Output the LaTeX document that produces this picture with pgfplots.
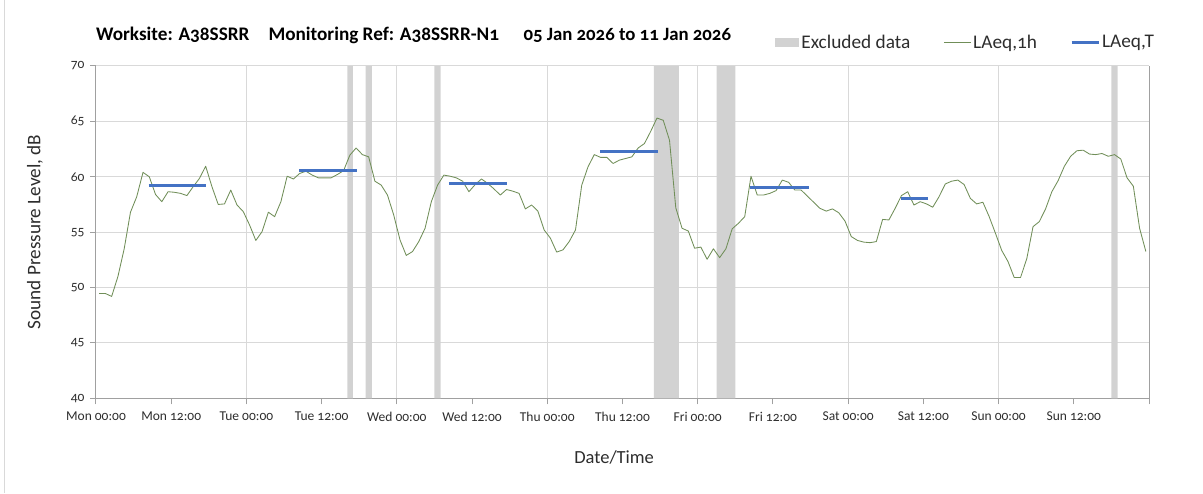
\documentclass[border=0pt]{standalone}
\usepackage{fontspec}
\setmainfont{Carlito}[Numbers=OldStyle]
\usepackage{pgfplots}
\pgfplotsset{compat=1.18}
\definecolor{lgreen}{RGB}{112,142,88}
\definecolor{lblue}{RGB}{68,114,196}
\definecolor{band}{RGB}{210,210,210}
\definecolor{gridc}{RGB}{217,217,217}
\definecolor{axisc}{RGB}{160,160,160}
\definecolor{txt}{RGB}{45,45,45}
\begin{document}
\begin{tikzpicture}
\begin{axis}[
  at={(0pt,0pt)}, anchor=south west,
  scale only axis, width=1053pt, height=332.3pt,
  xmin=0, xmax=168, ymin=40, ymax=70,
  axis x line*=bottom, axis y line*=box,
  axis line style={axisc, line width=1pt},
  xtick={0,12,...,168},
  xticklabels={Mon 00:00,Mon 12:00,Tue 00:00,Tue 12:00,Wed 00:00,Wed 12:00,Thu 00:00,Thu 12:00,Fri 00:00,Fri 12:00,Sat 00:00,Sat 12:00,Sun 00:00,Sun 12:00,},
  ytick={40,45,...,70}, ytick pos=left, xtick pos=bottom,
  tick align=outside, major tick length=6pt,
  tick style={axisc, line width=1pt},
  ymajorgrids=true, xmajorgrids=false,
  grid style={gridc, line width=1pt},
  extra x ticks={24,48,72,96,120,144},
  extra x tick labels={},
  extra x tick style={xmajorgrids=true, major tick length=0pt},
  /pgf/number format/assume math mode=true,
  ticklabel style={font=\fontsize{13.5}{15}\selectfont, text=txt},
  xticklabel style={yshift=-4pt},
  yticklabel style={xshift=-2pt},
  xlabel={Date/Time}, ylabel={Sound Pressure Level, dB},
  label style={font=\fontsize{18.5}{20}\selectfont, text=txt},
  ylabel style={font=\fontsize{19.2}{20}\selectfont},
  xlabel style={at={(axis description cs:0.492,-0.177)}, anchor=center},
  ylabel style={at={(axis description cs:-0.058,0.5)}, anchor=center, rotate=0},
  legend columns=3,
  legend style={at={(0.645,1.072)}, anchor=west, draw=none, fill=none,
    font=\fontsize{19.3}{21}\selectfont, text=txt, inner sep=0pt,
    nodes={inner xsep=2pt, inner ysep=1pt},
    /tikz/every even column/.append style={column sep=31pt}},
]
\addplot[fill=band, draw=none, legend image code/.code={\fill[band] (0pt,-4.5pt) rectangle (24pt,4.5pt);}]
  coordinates {(40.1,40) (41,40) (41,70) (40.1,70)} \closedcycle;
\addlegendentry{Excluded data}
\addplot[fill=band, draw=none, forget plot] coordinates {(43,40) (44,40) (44,70) (43,70)} \closedcycle;
\addplot[fill=band, draw=none, forget plot] coordinates {(54,40) (55,40) (55,70) (54,70)} \closedcycle;
\addplot[fill=band, draw=none, forget plot] coordinates {(89,40) (93,40) (93,70) (89,70)} \closedcycle;
\addplot[fill=band, draw=none, forget plot] coordinates {(99,40) (102,40) (102,70) (99,70)} \closedcycle;
\addplot[fill=band, draw=none, forget plot] coordinates {(162,40) (163,40) (163,70) (162,70)} \closedcycle;

\addplot[lgreen, line width=0.85pt, line join=round, legend image code/.code={\draw[lgreen, line width=0.85pt] (0pt,0pt) -- (27pt,0pt);}] table[row sep=\\] {
x y\\
0.5 49.46\\ 1.5 49.46\\ 2.5 49.2\\ 3.5 51.0\\ 4.5 53.5\\ 5.5 56.8\\ 6.5 58.2\\ 7.5 60.4\\ 8.5 60.0\\ 9.5 58.4\\
10.5 57.75\\ 11.5 58.65\\ 12.5 58.6\\ 13.5 58.5\\ 14.5 58.3\\ 15.5 59.1\\ 16.5 59.85\\ 17.5 60.95\\ 18.5 59.1\\ 19.5 57.5\\
20.5 57.55\\ 21.5 58.8\\ 22.5 57.45\\ 23.5 56.85\\ 24.5 55.65\\ 25.5 54.25\\ 26.5 55.05\\ 27.5 56.8\\ 28.5 56.4\\ 29.5 57.75\\
30.5 60.05\\ 31.5 59.8\\ 32.5 60.3\\ 33.5 60.5\\ 34.5 60.15\\ 35.5 59.9\\ 36.5 59.9\\ 37.5 59.9\\ 38.5 60.2\\ 39.5 60.55\\
40.5 61.95\\ 41.5 62.6\\ 42.5 62.0\\ 43.5 61.8\\ 44.5 59.6\\ 45.5 59.25\\ 46.5 58.35\\ 47.5 56.55\\ 48.5 54.3\\ 49.5 52.9\\
50.5 53.25\\ 51.5 54.15\\ 52.5 55.35\\ 53.5 57.75\\ 54.5 59.25\\ 55.5 60.15\\ 56.5 60.05\\ 57.5 59.9\\ 58.5 59.6\\ 59.5 58.65\\
60.5 59.3\\ 61.5 59.8\\ 62.5 59.4\\ 63.5 58.9\\ 64.5 58.35\\ 65.5 58.85\\ 66.5 58.7\\ 67.5 58.5\\ 68.5 57.1\\ 69.5 57.45\\
70.5 56.9\\ 71.5 55.2\\ 72.5 54.45\\ 73.5 53.2\\ 74.5 53.4\\ 75.5 54.15\\ 76.5 55.2\\ 77.5 59.25\\ 78.5 60.9\\ 79.5 62.0\\
80.5 61.75\\ 81.5 61.75\\ 82.5 61.2\\ 83.5 61.5\\ 84.5 61.65\\ 85.5 61.8\\ 86.5 62.6\\ 87.5 63.0\\ 88.5 64.1\\ 89.5 65.3\\
90.5 65.1\\ 91.5 63.3\\ 92.5 57.2\\ 93.5 55.35\\ 94.5 55.1\\ 95.5 53.55\\ 96.5 53.65\\ 97.5 52.55\\ 98.5 53.5\\ 99.5 52.7\\
100.5 53.5\\ 101.5 55.3\\ 102.5 55.8\\ 103.5 56.4\\ 104.5 60.05\\ 105.5 58.35\\ 106.5 58.35\\ 107.5 58.5\\ 108.5 58.75\\ 109.5 59.7\\
110.5 59.5\\ 111.5 58.8\\ 112.5 58.8\\ 113.5 58.25\\ 114.5 57.7\\ 115.5 57.15\\ 116.5 56.9\\ 117.5 57.1\\ 118.5 56.75\\ 119.5 56.0\\
120.5 54.6\\ 121.5 54.25\\ 122.5 54.1\\ 123.5 54.05\\ 124.5 54.15\\ 125.5 56.15\\ 126.5 56.1\\ 127.5 57.15\\ 128.5 58.3\\ 129.5 58.65\\
130.5 57.45\\ 131.5 57.75\\ 132.5 57.55\\ 133.5 57.25\\ 134.5 58.2\\ 135.5 59.35\\ 136.5 59.6\\ 137.5 59.7\\ 138.5 59.3\\ 139.5 58.05\\
140.5 57.55\\ 141.5 57.7\\ 142.5 56.4\\ 143.5 54.9\\ 144.5 53.35\\ 145.5 52.35\\ 146.5 50.9\\ 147.5 50.9\\ 148.5 52.6\\ 149.5 55.5\\
150.5 55.95\\ 151.5 57.1\\ 152.5 58.65\\ 153.5 59.65\\ 154.5 60.95\\ 155.5 61.85\\ 156.5 62.35\\ 157.5 62.4\\ 158.5 62.05\\ 159.5 62.0\\
160.5 62.1\\ 161.5 61.85\\ 162.5 62.0\\ 163.5 61.6\\ 164.5 59.9\\ 165.5 59.15\\ 166.5 55.35\\ 167.5 53.25\\
};
\addlegendentry{LAeq,1h}

\addplot[lblue, line width=3pt, unbounded coords=jump, legend image code/.code={\draw[lblue, line width=3pt] (0pt,0pt) -- (27pt,0pt);}] coordinates {
(8.4,59.2) (17.6,59.2) (17.6,nan)
(32.4,60.6) (41.6,60.6) (41.6,nan)
(56.3,59.35) (65.6,59.35) (65.6,nan)
(80.4,62.3) (89.6,62.3) (89.6,nan)
(104.4,59.0) (113.7,59.0) (113.7,nan)
(128.5,58.0) (132.7,58.0)
};
\addlegendentry{LAeq,T}
\end{axis}
\node[anchor=base west, inner sep=0pt, font=\bfseries\fontsize{19.2}{21}\selectfont] at (0pt,357.3pt) {Worksite: A38SSRR};
\node[anchor=base west, inner sep=0pt, font=\bfseries\fontsize{19.2}{21}\selectfont] at (172.3pt,357.3pt) {Monitoring Ref: A38SSRR-N1};
\node[anchor=base west, inner sep=0pt, font=\bfseries\fontsize{18.8}{21}\selectfont] at (427.3pt,357.3pt) {05 Jan 2026 to 11 Jan 2026};
\draw[gridc, line width=1pt] (-91pt,-94.7pt) -- (-91pt,398.3pt);
\pgfresetboundingbox
\path (-96pt,-94.7pt) rectangle (1107pt,398.3pt);
\end{tikzpicture}
\end{document}
